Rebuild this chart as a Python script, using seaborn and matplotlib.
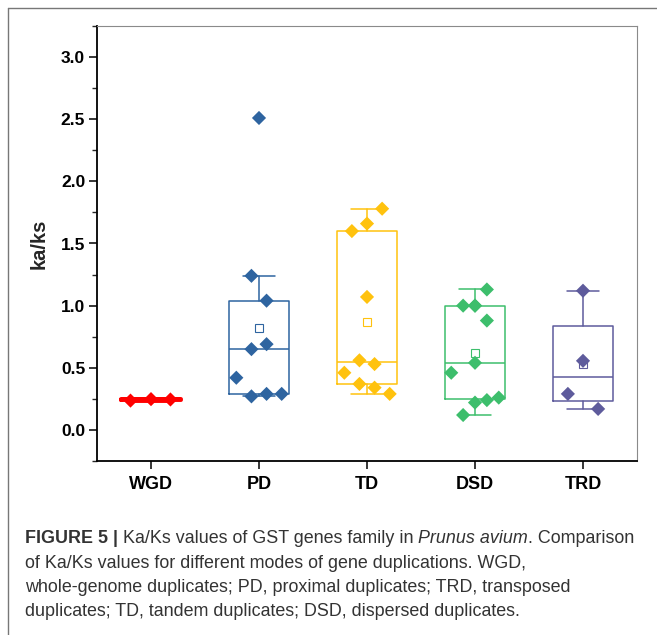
import numpy as np
import pandas as pd
import seaborn as sns
import matplotlib.pyplot as plt
from matplotlib.lines import Line2D

sns.set_theme(style='ticks')
plt.rcParams['font.family'] = ['Liberation Sans', 'DejaVu Sans']

modes  = ['WGD',     'PD',      'TD',      'DSD',     'TRD']
colors = ['#FF0000', '#2E64A0', '#FFC20E', '#3DBE6C', '#5E5B9C']

# Ka/Ks values
wgd = [0.236, 0.248, 0.245]
pd_vals = [2.51, 1.24, 1.04, 0.69, 0.65, 0.42, 0.29, 0.29, 0.27]
td  = [1.78, 1.66, 1.60, 1.07, 0.56, 0.53, 0.46, 0.37, 0.34, 0.29]
dsd = [1.13, 1.00, 1.00, 1.00, 0.88, 0.54, 0.46, 0.26, 0.24, 0.22, 0.12]
trd = [1.12, 0.556, 0.29, 0.169]

# horizontal spread of the dots inside each box (fraction of a category)
wgd_jit = [-0.19, 0.0, 0.18]
pd_jit  = [0.0, -0.07, 0.07, 0.07, -0.07, -0.21, 0.07, 0.21, -0.07]
td_jit  = [0.14, 0.0, -0.14, 0.0, -0.07, 0.07, -0.21, -0.07, 0.07, 0.21]
dsd_jit = [0.11, -0.11, 0.0, 0.0, 0.11, 0.0, -0.22, 0.22, 0.11, 0.0, -0.11]
trd_jit = [0.0, 0.0, -0.14, 0.14]

groups = [wgd, pd_vals, td, dsd, trd]
jits = [wgd_jit, pd_jit, td_jit, dsd_jit, trd_jit]


def box_stats(vals, label):
    '''Origin style box: Tukey hinges, 1.5 IQR whiskers'''
    v = np.sort(np.asarray(vals, dtype=float))
    n = len(v)
    half = (n + 1) // 2
    q1, q3 = np.median(v[:half]), np.median(v[n - half:])
    iqr = q3 - q1
    lo = v[v >= q1 - 1.5 * iqr].min()
    hi = v[v <= q3 + 1.5 * iqr].max()
    return dict(label=label, med=np.median(v), q1=q1, q3=q3, whislo=lo,
                whishi=hi, mean=v.mean(), fliers=[])


rows = []
for i, (m, vals, jit) in enumerate(zip(modes, groups, jits)):
    for v, j in zip(vals, jit):
        rows.append({'mode': m, 'value': v, 'pos': i + j})
df = pd.DataFrame(rows)

fig = plt.figure(figsize=(6.57, 6.35), dpi=100)
W, H = 657, 635
ax = fig.add_axes([97 / W, 1 - 461 / H, 540 / W, 435 / H])

for i, (m, vals, c) in enumerate(zip(modes, groups, colors)):
    st = box_stats(vals, m)
    flat = m == 'WGD'   # the WGD box collapses to a thick line
    lw = 2.8 if flat else 1.1
    ax.bxp([st], positions=[i], widths=0.56, capwidths=0.29, showmeans=not flat,
           showfliers=False,
           boxprops=dict(color=c, linewidth=lw),
           whiskerprops=dict(color=c, linewidth=1.1),
           capprops=dict(color=c, linewidth=lw),
           medianprops=dict(color=c, linewidth=lw),
           meanprops=dict(marker='s', markerfacecolor='white', markeredgecolor=c,
                          markersize=6.3, markeredgewidth=0.8))

sns.scatterplot(data=df, x='pos', y='value', hue='mode', hue_order=modes,
                palette=dict(zip(modes, colors)), marker='D', s=52,
                edgecolor='none', legend=False, ax=ax, zorder=3)

ax.set_xlim(-0.5, 4.5)
ax.set_ylim(-0.25, 3.25)
ax.set_xticks(range(len(modes)))
ax.set_xticklabels(modes, fontsize=13, fontweight='bold')
yt = np.arange(0, 3.01, 0.5)
ax.set_yticks(yt)
ax.set_yticklabels([f'{y:.1f}' for y in yt], fontsize=12.5, fontweight='bold')
ax.set_yticks(np.arange(-0.25, 3.26, 0.25), minor=True)
ax.set_xlabel('')
ax.set_ylabel('ka/ks', fontsize=14.5, fontweight='bold', labelpad=9)
ax.tick_params(axis='both', which='major', direction='out', length=5.5, width=1.1,
               pad=3, color='black', labelcolor='black')
ax.tick_params(axis='x', which='major', pad=5)
ax.tick_params(axis='y', which='minor', direction='out', length=3.5, width=1.0)
for s in ['left', 'bottom']:
    ax.spines[s].set_color('black')
    ax.spines[s].set_linewidth(1.3)
for s in ['top', 'right']:
    ax.spines[s].set_color('#8a8a8a')
    ax.spines[s].set_linewidth(0.8)

# outer frame of the figure panel
fig.add_artist(Line2D([8 / W, 1], [1 - 8 / H, 1 - 8 / H], color='#777777', lw=1))
fig.add_artist(Line2D([8 / W, 8 / W], [0, 1 - 8 / H], color='#777777', lw=1))

# caption
cap_size = 12.9
lines = [
    [('FIGURE 5 |', dict(fontweight='bold')),
     (' Ka/Ks values of GST genes family in ', {}),
     ('Prunus avium', dict(style='italic')),
     ('. Comparison', {})],
    [('of Ka/Ks values for different modes of gene duplications. WGD,', {})],
    [('whole-genome duplicates; PD, proximal duplicates; TRD, transposed', {})],
    [('duplicates; TD, tandem duplicates; DSD, dispersed duplicates.', {})],
]
baselines = [543, 568, 592, 616]
renderer = fig.canvas.get_renderer()
for pieces, yb in zip(lines, baselines):
    x = 25
    for txt, kw in pieces:
        t = fig.text(x / W, 1 - yb / H, txt, fontsize=cap_size, va='baseline',
                     ha='left', color='#333333', **kw)
        x = t.get_window_extent(renderer=renderer).x1

fig.savefig('out.png', dpi=100)
